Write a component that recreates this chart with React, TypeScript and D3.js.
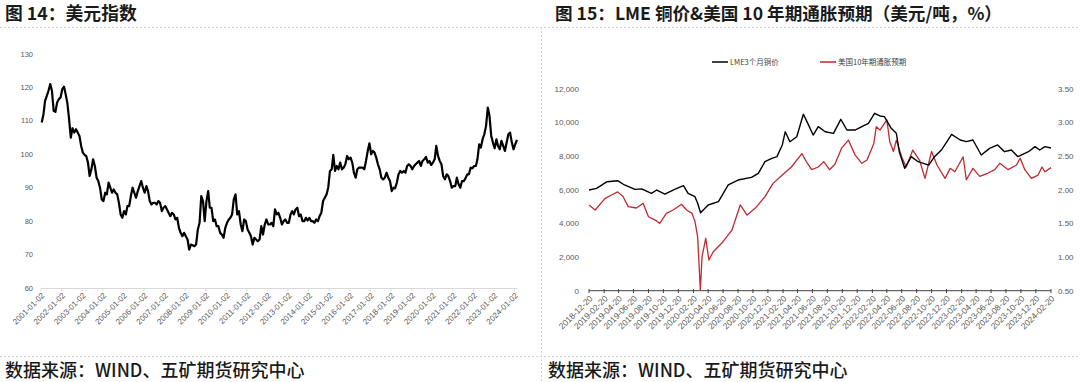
import React, { useEffect } from "react";
import * as d3 from "d3";

// ---------- Left chart: US Dollar Index (monthly, Jan 2001 → Feb 2024) ----------
const dxyStart = [2001, 0];
const dxyValues: number[] = [
  // 2001
  109.5, 112.0, 116.0, 117.5, 119.0, 121.0, 119.0, 113.0, 112.7, 115.5, 116.5, 117.0,
  // 2002
  119.5, 120.2, 118.0, 115.3, 110.5, 105.0, 107.8, 106.5, 107.5, 106.5, 105.5, 102.5,
  // 2003
  100.5, 99.8, 99.5, 97.5, 93.5, 95.5, 98.5, 96.5, 93.0, 92.0, 90.0, 86.5,
  // 2004
  86.0, 88.5, 88.0, 91.5, 90.0, 88.5, 89.5, 88.5, 88.0, 85.5, 82.0, 81.0,
  // 2005
  83.0, 82.0, 84.5, 84.5, 87.5, 90.0, 88.5, 87.0, 89.0, 90.5, 92.0, 90.0,
  // 2006
  88.5, 90.5, 89.0, 86.0, 85.0, 85.5, 85.5, 85.0, 86.0, 85.5, 83.0, 84.0,
  // 2007
  84.5, 83.5, 82.5, 81.5, 82.5, 82.0, 80.5, 81.0, 78.0, 76.5, 75.5, 76.5,
  // 2008
  75.5, 74.5, 71.5, 73.0, 72.8, 72.5, 73.0, 77.5, 79.5, 87.5, 86.0, 80.0,
  // 2009
  86.0, 89.0, 84.0, 84.0, 80.0, 80.5, 78.5, 78.5, 76.5, 76.0, 75.0, 78.0,
  // 2010
  79.5, 80.5, 81.0, 82.0, 86.5, 88.0, 82.0, 83.0, 79.0, 77.0, 80.5, 80.0,
  // 2011
  77.5, 76.5, 75.5, 73.0, 75.0, 74.5, 74.0, 74.5, 78.5, 76.0, 79.0, 80.5,
  // 2012
  79.0, 79.0, 79.5, 78.5, 83.5, 82.0, 82.5, 81.0, 79.0, 80.0, 80.5, 79.5,
  // 2013
  79.5, 82.0, 83.0, 82.0, 83.5, 84.0, 81.5, 82.0, 80.0, 80.0, 81.0, 80.2,
  // 2014
  81.0, 80.0, 80.0, 79.5, 80.5, 80.0, 81.5, 82.5, 86.0, 87.0, 88.0, 90.0,
  // 2015
  95.0, 95.5, 99.8, 95.0, 96.5, 95.5, 97.5, 95.5, 96.0, 97.0, 99.5, 98.5,
  // 2016
  99.0, 97.5, 94.5, 93.0, 95.5, 96.0, 96.0, 96.0, 95.5, 98.0, 101.0, 103.3,
  // 2017
  100.0, 101.0, 100.5, 99.0, 97.0, 95.5, 93.0, 92.5, 93.0, 94.5, 93.0, 92.0,
  // 2018
  89.0, 90.0, 89.8, 91.5, 94.0, 95.0, 94.5, 95.0, 94.5, 96.5, 97.0, 96.5,
  // 2019
  95.5, 96.5, 97.0, 97.5, 98.0, 96.5, 98.0, 98.5, 99.2, 97.5, 98.0, 96.8,
  // 2020
  97.5, 98.5, 102.5, 99.5, 98.0, 97.0, 93.5, 92.5, 94.0, 93.5, 92.0, 90.0,
  // 2021
  90.5, 90.5, 93.0, 91.0, 90.0, 92.0, 92.0, 92.8, 94.0, 94.0, 96.0, 95.8,
  // 2022
  96.5, 96.5, 98.5, 103.0, 102.0, 104.5, 106.0, 108.5, 114.0, 111.5, 105.5, 103.5,
  // 2023
  101.8, 104.5, 102.5, 101.5, 104.0, 102.5, 101.0, 103.5, 106.0, 106.5, 103.5, 101.5,
  // 2024
  103.0, 104.3,
];
const dxyYTicks = [60, 70, 80, 90, 100, 110, 120, 130];
const dxyXTickLabels = d3.range(2001, 2025).map((y) => `${y}-01-02`);

// ---------- Right chart: LME 3M copper (USD/t) & US 10Y breakeven (%) ----------
const copperDates = [
  "2018-12-20", "2019-01-20", "2019-03-04", "2019-04-16", "2019-05-14", "2019-06-26",
  "2019-07-23", "2019-09-01", "2019-09-23", "2019-10-26", "2019-12-05", "2020-01-10",
  "2020-01-29", "2020-02-26", "2020-03-08", "2020-03-20", "2020-04-20", "2020-06-01",
  "2020-07-11", "2020-08-20", "2020-10-14", "2020-11-11", "2020-12-08", "2021-01-05",
  "2021-01-26", "2021-02-17", "2021-03-01", "2021-03-20", "2021-04-17", "2021-05-14",
  "2021-06-01", "2021-06-23", "2021-07-14", "2021-08-11", "2021-09-14", "2021-10-14",
  "2021-11-08", "2021-12-11", "2022-01-08", "2022-02-04", "2022-03-01", "2022-03-23",
  "2022-04-10", "2022-05-08", "2022-05-29", "2022-06-10", "2022-07-02", "2022-07-29",
  "2022-08-26", "2022-10-08", "2022-11-01", "2022-11-29", "2023-01-10", "2023-02-14",
  "2023-03-11", "2023-04-07", "2023-05-11", "2023-06-14", "2023-07-17", "2023-08-14",
  "2023-09-11", "2023-10-08", "2023-11-20", "2023-12-17", "2024-01-05", "2024-01-26",
  "2024-02-20",
];
const copperValues = [
  5990, 6090, 6485, 6545, 6290, 6030,
  6060, 5790, 5990, 5750, 6030, 6250,
  5790, 5590, 5200, 4640, 5100, 5300,
  6290, 6585, 6745, 6985, 7675, 7875,
  7975, 8670, 9460, 8865, 9160, 10495,
  9955, 9260, 9760, 9460, 9360, 10195,
  9560, 9560, 9760, 9955, 10555, 10395,
  10355, 9660, 9360, 8270, 7280, 7975,
  7675, 7475, 7975, 8370, 9300, 8965,
  8865, 8965, 8075, 8470, 8670, 8270,
  8370, 7975, 8270, 8570, 8370, 8570,
  8490,
];
const beDates = [
  "2018-12-20", "2019-01-14", "2019-02-23", "2019-03-20", "2019-04-16", "2019-05-08",
  "2019-05-29", "2019-07-02", "2019-07-29", "2019-08-20", "2019-09-17", "2019-10-05",
  "2019-11-01", "2019-11-29", "2020-01-02", "2020-01-23", "2020-02-14", "2020-02-26",
  "2020-03-08", "2020-03-19", "2020-03-26", "2020-04-10", "2020-04-23", "2020-05-11",
  "2020-06-14", "2020-07-26", "2020-08-29", "2020-09-26", "2020-10-29", "2020-12-08",
  "2021-01-11", "2021-02-17", "2021-03-26", "2021-05-08", "2021-05-26", "2021-06-17",
  "2021-07-14", "2021-08-05", "2021-08-29", "2021-09-20", "2021-10-17", "2021-11-14",
  "2021-12-11", "2022-01-08", "2022-01-29", "2022-02-26", "2022-03-08", "2022-03-23",
  "2022-04-20", "2022-05-02", "2022-05-17", "2022-05-29", "2022-06-20", "2022-07-08",
  "2022-08-04", "2022-09-01", "2022-09-23", "2022-10-20", "2022-11-11", "2022-12-14",
  "2023-01-04", "2023-01-23", "2023-02-26", "2023-03-11", "2023-04-07", "2023-05-05",
  "2023-06-08", "2023-07-05", "2023-07-26", "2023-08-29", "2023-10-02", "2023-10-17",
  "2023-11-05", "2023-12-02", "2023-12-29", "2024-01-14", "2024-01-26", "2024-02-20",
];
const beValues = [
  1.775, 1.70, 1.87, 1.92, 1.97, 1.90,
  1.75, 1.73, 1.80, 1.60, 1.55, 1.50,
  1.65, 1.70, 1.785, 1.70, 1.65, 1.53,
  1.30, 0.51, 1.006, 1.28, 0.956, 1.08,
  1.205, 1.40, 1.775, 1.625, 1.725, 1.90,
  2.10, 2.22, 2.34, 2.54, 2.42, 2.30,
  2.34, 2.42, 2.30, 2.38, 2.62, 2.74,
  2.52, 2.395, 2.445, 2.69, 2.94, 2.89,
  3.04, 2.72, 2.57, 2.74, 2.49, 2.34,
  2.59, 2.44, 2.17, 2.57, 2.37, 2.17,
  2.32, 2.27, 2.49, 2.15, 2.32, 2.20,
  2.25, 2.30, 2.395, 2.30, 2.37, 2.47,
  2.30, 2.17, 2.22, 2.34, 2.27, 2.33,
];
const copperYTicks = [0, 2000, 4000, 6000, 8000, 10000, 12000];
const beYTicks = [0.5, 1.0, 1.5, 2.0, 2.5, 3.0, 3.5];
const rightXTickLabels = d3
  .range(0, 32)
  .map((i) => d3.timeFormat("%Y-%m-%d")(d3.timeMonth.offset(new Date(2018, 11, 20), i * 2)));

const seriesNames = ["LME3个月铜价", "美国10年期通胀预期"];
const titles = ["图 14：美元指数", "图 15：LME 铜价&美国 10 年期通胀预期（美元/吨，%）"];
const sourceText = "数据来源：WIND、五矿期货研究中心";

const parse = d3.timeParse("%Y-%m-%d");
const CJK = "'Noto Sans CJK SC', 'Noto Sans', sans-serif";
const SANS = "'Liberation Sans', Arial, sans-serif";
const GRAY = "#595959";
const RED = "#BE2A31";

export default function App() {
  useEffect(() => {
    document.body.style.margin = "0";
  }, []);

  // left scales
  const xL = d3.scaleTime().domain([new Date(2001, 0, 2), new Date(2024, 1, 15)]).range([41, 517]);
  const yL = d3.scaleLinear().domain([60, 130]).range([288, 54]);
  const dxyData = dxyValues.map((v, i) => ({ date: new Date(dxyStart[0], dxyStart[1] + i, 15), v }));
  const lineL = d3
    .line<{ date: Date; v: number }>()
    .x((d) => xL(d.date))
    .y((d) => yL(d.v));

  // right scales
  const xR = d3.scaleTime().domain([parse("2018-12-20")!, parse("2024-02-20")!]).range([589, 1051]);
  const yRL = d3.scaleLinear().domain([0, 12000]).range([290.7, 89]);
  const yRR = d3.scaleLinear().domain([0.5, 3.5]).range([290.7, 89]);
  const copperData = copperDates.map((d, i) => ({ date: parse(d)!, v: copperValues[i] }));
  const beData = beDates.map((d, i) => ({ date: parse(d)!, v: beValues[i] }));
  const lineCu = d3
    .line<{ date: Date; v: number }>()
    .x((d) => xR(d.date))
    .y((d) => yRL(d.v));
  const lineBe = d3
    .line<{ date: Date; v: number }>()
    .x((d) => xR(d.date))
    .y((d) => yRR(d.v));

  const fmtK = d3.format(",");
  const fmt2 = d3.format(".2f");

  return (
    <svg
      width={1080}
      height={382}
      style={{ position: "absolute", left: 0, top: 0, background: "#fff" }}
      xmlns="http://www.w3.org/2000/svg"
    >
      <rect x={0} y={0} width={1080} height={382} fill="#fff" />
      {/* separators */}
      <line x1={0} x2={1080} y1={27.5} y2={27.5} stroke="#d4d4d4" strokeDasharray="2,2" />
      <line x1={0} x2={1080} y1={356.5} y2={356.5} stroke="#d4d4d4" strokeDasharray="2,2" />
      <line x1={541.5} x2={541.5} y1={27} y2={382} stroke="#d4d4d4" strokeDasharray="2,2" />

      {/* titles */}
      <text x={5} y={19.5} fontFamily={CJK} fontWeight={700} fontSize={17.8} fill="#1a1a1a">
        {titles[0]}
      </text>
      <text x={555} y={19.5} fontFamily={CJK} fontWeight={700} fontSize={17.6} fill="#1a1a1a">
        {titles[1]}
      </text>

      {/* footers */}
      <text x={5} y={377} fontFamily={CJK} fontWeight={500} fontSize={18} fill="#1a1a1a">
        {sourceText}
      </text>
      <text x={548} y={377} fontFamily={CJK} fontWeight={500} fontSize={18} fill="#1a1a1a">
        {sourceText}
      </text>

      {/* ---------- left chart ---------- */}
      <g>
        {dxyYTicks.map((t) => (
          <text
            key={t}
            x={33}
            y={yL(t)}
            dy="0.35em"
            textAnchor="end"
            fontFamily={SANS}
            fontSize={7.5}
            fill={GRAY}
          >
            {t}
          </text>
        ))}
        <line x1={41} x2={517} y1={288.5} y2={288.5} stroke="#d9d9d9" />
        {dxyXTickLabels.map((lab) => {
          const x = xL(parse(lab)!);
          return (
            <g key={lab}>
              <line x1={x} x2={x} y1={288.5} y2={291} stroke="#d9d9d9" />
              <text
                transform={`translate(${x + 2},${294}) rotate(-45)`}
                textAnchor="end"
                dy="0.35em"
                fontFamily={SANS}
                fontSize={8}
                fill={GRAY}
              >
                {lab}
              </text>
            </g>
          );
        })}
        <path
          d={lineL(dxyData) || ""}
          fill="none"
          stroke="#000"
          strokeWidth={2.2}
          strokeLinejoin="round"
        />
      </g>

      {/* ---------- right chart ---------- */}
      <g>
        {/* legend */}
        <line x1={712} x2={728} y1={62} y2={62} stroke="#000" strokeWidth={1.5} />
        <text x={730} y={62} dy="0.35em" fontFamily={CJK} fontSize={7.5} fill="#404040">
          {seriesNames[0]}
        </text>
        <line x1={820} x2={836} y1={62} y2={62} stroke={RED} strokeWidth={1.5} />
        <text x={838} y={62} dy="0.35em" fontFamily={CJK} fontSize={7.5} fill="#404040">
          {seriesNames[1]}
        </text>

        {copperYTicks.map((t) => (
          <text
            key={t}
            x={579}
            y={yRL(t)}
            dy="0.35em"
            textAnchor="end"
            fontFamily={SANS}
            fontSize={8}
            fill={GRAY}
          >
            {fmtK(t)}
          </text>
        ))}
        {beYTicks.map((t) => (
          <text
            key={t}
            x={1058}
            y={yRR(t)}
            dy="0.35em"
            textAnchor="start"
            fontFamily={SANS}
            fontSize={8}
            fill={GRAY}
          >
            {fmt2(t)}
          </text>
        ))}

        <path d={lineBe(beData) || ""} fill="none" stroke={RED} strokeWidth={1.3} strokeLinejoin="round" />
        <path d={lineCu(copperData) || ""} fill="none" stroke="#000" strokeWidth={1.4} strokeLinejoin="round" />

        <line x1={589} x2={1051} y1={290.7} y2={290.7} stroke="#404040" strokeWidth={1} />
        {rightXTickLabels.map((lab) => {
          const x = xR(parse(lab)!);
          return (
            <g key={lab}>
              <line x1={x} x2={x} y1={289} y2={293} stroke="#404040" />
              <text
                transform={`translate(${x + 2},${297}) rotate(-45)`}
                textAnchor="end"
                dy="0.35em"
                fontFamily={SANS}
                fontSize={8.5}
                fill={GRAY}
              >
                {lab}
              </text>
            </g>
          );
        })}
      </g>
    </svg>
  );
}
